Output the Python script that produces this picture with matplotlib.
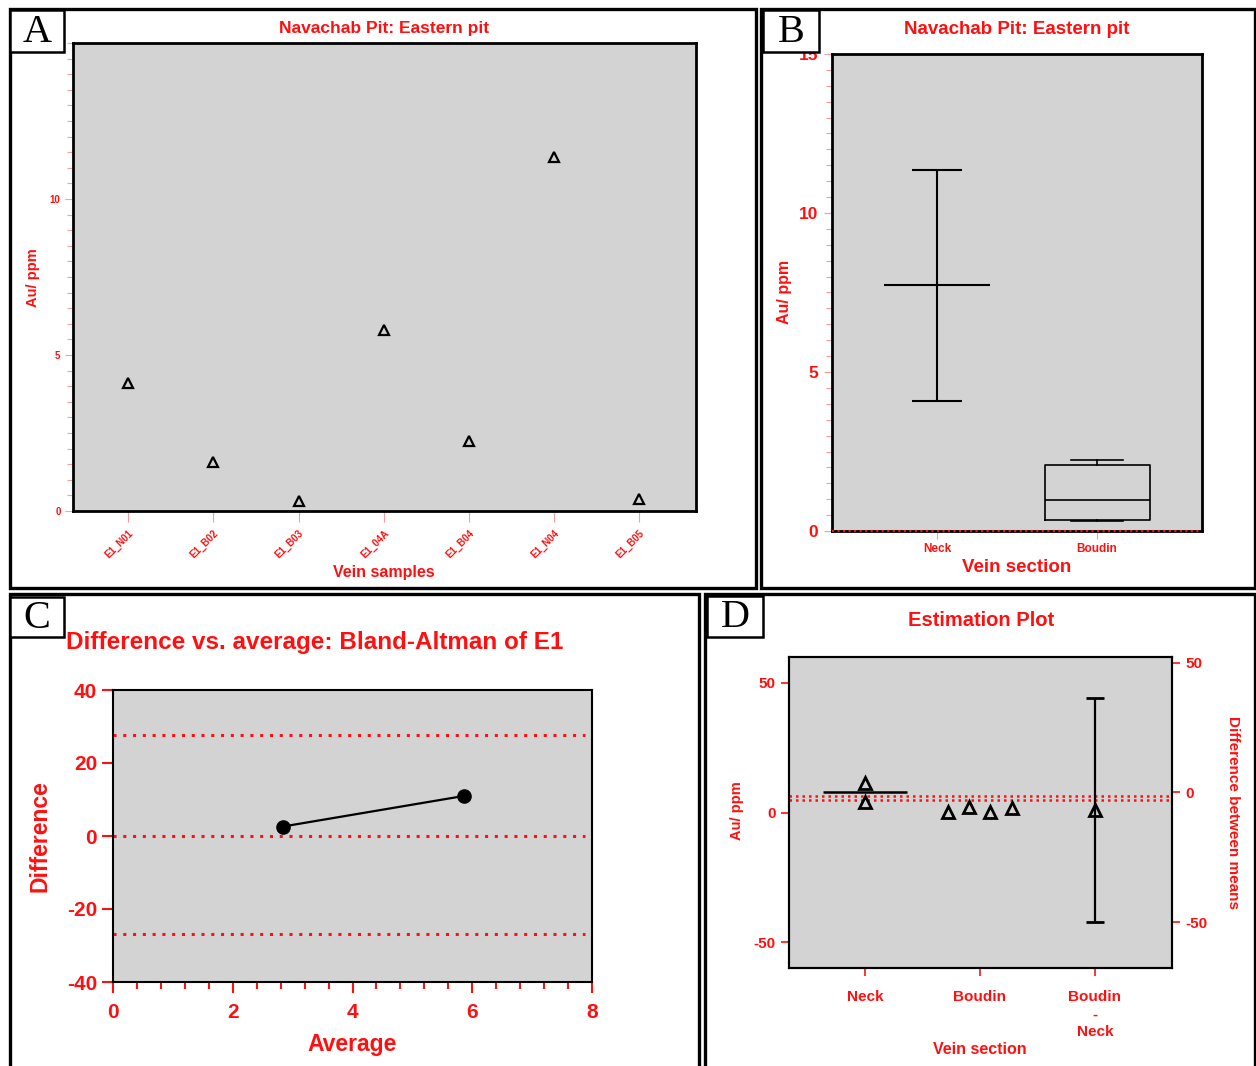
import numpy as np
import matplotlib
matplotlib.use("Agg")
import matplotlib.pyplot as plt
from matplotlib.patches import Rectangle

plt.rcParams['font.family'] = ['Liberation Sans', 'DejaVu Sans']
plt.rcParams['font.weight'] = 'bold'
plt.rcParams['axes.unicode_minus'] = False

# ---- data ----
samples = ['E1_N01', 'E1_B02', 'E1_B03', 'E1_04A', 'E1_B04', 'E1_N04', 'E1_B05']
au_ppm = [4.1, 1.57, 0.32, 5.8, 2.24, 11.35, 0.38]

sections = ['Neck', 'Boudin']
neck_vals = [4.1, 11.35]
boudin_vals = [0.32, 2.24, 0.38, 1.57]

ba_average = [2.84, 5.86]
ba_difference = [2.6, 10.97]
ba_limits = [27.6, 0.0, -26.9]

est_labels = ['Neck', 'Boudin', 'Boudin\n-\nNeck']
est_ref_lines = [6.3, 4.8]
diff_ci = [-49.8, 36.5]

RED = '#ff1010'
PINK = '#f4a0a0'
GREY = '#d3d3d3'

W, H = 1256, 1066
fig = plt.figure(figsize=(W / 100, H / 100), dpi=100)


def px_axes(l, t, r, b):
    return fig.add_axes([l / W, 1 - b / H, (r - l) / W, (b - t) / H])


def ftext(x, y, s, **kw):
    fig.text(x / W, 1 - y / H, s, **kw)


def frame(l, t, r, b, lw=2.4, fill=False):
    fig.patches.append(Rectangle((l / W, 1 - b / H), (r - l) / W, (b - t) / H,
                                 transform=fig.transFigure, fill=fill,
                                 facecolor='white', edgecolor='black',
                                 linewidth=lw, zorder=5))


def style_axes(ax, lw=2.0):
    ax.set_facecolor(GREY)
    for s in ax.spines.values():
        s.set_linewidth(lw)
        s.set_color('black')


# ---------------- panel A ----------------
axA = px_axes(73, 43, 696, 511)
style_axes(axA)
xA = np.arange(len(samples))
axA.plot(xA, au_ppm, linestyle='none', marker='^', markersize=7,
         markerfacecolor='none', markeredgecolor='black', markeredgewidth=1.6)
axA.set_xlim(-0.65, 6.67)
axA.set_ylim(0, 15)
axA.set_yticks([0, 5, 10])
axA.set_yticks(np.arange(0, 15.01, 0.5), minor=True)
axA.set_xticks(xA)
axA.set_xticklabels(samples, rotation=45, ha='right', rotation_mode='anchor')
axA.tick_params(axis='both', which='both', colors=PINK, labelcolor=RED,
                labelsize=7, width=0.8)
axA.tick_params(axis='y', which='major', length=6, pad=3)
axA.tick_params(axis='y', which='minor', length=4)
axA.tick_params(axis='x', length=8, pad=4)
ftext(384, 29, 'Navachab Pit: Eastern pit', color=RED, fontsize=12.5,
      ha='center', va='center', fontweight='bold')
ftext(33, 278, 'Au/ ppm', color=RED, fontsize=10.5, rotation=90,
      ha='center', va='center', fontweight='bold')
ftext(384, 572, 'Vein samples', color=RED, fontsize=11.5,
      ha='center', va='center', fontweight='bold')

# ---------------- panel B ----------------
axB = px_axes(832, 54, 1202, 531)
style_axes(axB)
neck_mean = np.mean(neck_vals)
axB.errorbar([0], [neck_mean],
             yerr=[[neck_mean - min(neck_vals)], [max(neck_vals) - neck_mean]],
             fmt='none', ecolor='black', elinewidth=1.5, capsize=18, capthick=1.5)
axB.hlines(neck_mean, -0.33, 0.33, color='black', linewidth=1.5)
q1, med, q3 = np.percentile(boudin_vals, [25, 50, 75], method='weibull')
stats = [dict(med=med, q1=q1, q3=q3, whislo=min(boudin_vals),
              whishi=max(boudin_vals), fliers=[])]
axB.bxp(stats, positions=[1], widths=0.656, capwidths=0.33, showfliers=False,
        boxprops=dict(color='black', linewidth=1.2),
        whiskerprops=dict(color='black', linewidth=1.2),
        capprops=dict(color='black', linewidth=1.2),
        medianprops=dict(color='black', linewidth=1.2))
axB.axhline(0, color=RED, linestyle=':', linewidth=1.5, zorder=6, clip_on=False)
axB.set_xlim(-0.656, 1.656)
axB.set_ylim(0, 15)
axB.set_yticks([0, 5, 10, 15])
axB.set_yticks(np.arange(0, 15.01, 0.5), minor=True)
axB.set_xticks([0, 1])
axB.set_xticklabels(sections)
axB.tick_params(axis='both', which='both', colors=PINK, labelcolor=RED, width=0.8)
axB.tick_params(axis='y', which='major', labelsize=12.5, length=6, pad=4)
axB.tick_params(axis='y', which='minor', length=4)
axB.tick_params(axis='x', labelsize=8.5, length=6, pad=3)
ftext(1017, 30, 'Navachab Pit: Eastern pit', color=RED, fontsize=13.5,
      ha='center', va='center', fontweight='bold')
ftext(785, 292, 'Au/ ppm', color=RED, fontsize=11.5, rotation=90,
      ha='center', va='center', fontweight='bold')
ftext(1017, 567, 'Vein section', color=RED, fontsize=13.5,
      ha='center', va='center', fontweight='bold')

# ---------------- panel C ----------------
axC = px_axes(113, 690, 592, 982)
style_axes(axC, lw=1.5)
for lim in ba_limits:
    axC.axhline(lim, xmin=0.0, xmax=0.985, color=RED, linestyle=(0, (1, 2.2)),
                linewidth=2.2)
axC.plot(ba_average, ba_difference, color='black', linewidth=1.6,
         marker='o', markersize=9.5)
axC.set_xlim(0, 8)
axC.set_ylim(-40, 40)
axC.set_xticks([0, 2, 4, 6, 8])
axC.set_xticks(np.arange(0, 8.01, 0.4), minor=True)
axC.set_yticks([-40, -20, 0, 20, 40])
axC.tick_params(axis='both', which='both', colors=RED, labelcolor=RED,
                labelsize=15, width=1.5)
axC.tick_params(axis='both', which='major', length=8)
axC.tick_params(axis='x', which='major', pad=7)
axC.tick_params(axis='x', which='minor', length=5)
ftext(66, 642, 'Difference vs. average: Bland-Altman of E1', color=RED,
      fontsize=17.5, ha='left', va='center', fontweight='bold')
ftext(40, 836, 'Difference', color=RED, fontsize=16.5, rotation=90,
      ha='center', va='center', fontweight='bold')
ftext(352, 1045, 'Average', color=RED, fontsize=16.5,
      ha='center', va='center', fontweight='bold')

# ---------------- panel D ----------------
axD = px_axes(789, 657, 1172, 968)
style_axes(axD, lw=1.5)
axD.set_xlim(-0.66, 2.67)
axD.set_ylim(-60, 60)
for yv in est_ref_lines:
    axD.axhline(yv, color=RED, linestyle=(0, (1, 1.6)), linewidth=1.8)
axD.plot(np.zeros(len(neck_vals)), neck_vals, linestyle='none', marker='^',
         markersize=9, markerfacecolor='none', markeredgecolor='black',
         markeredgewidth=2)
axD.hlines(neck_mean, -0.365, 0.365, color='black', linewidth=1.8)
boudin_jitter = [-0.28, -0.095, 0.087, 0.28]
axD.plot(1 + np.array(boudin_jitter), boudin_vals, linestyle='none', marker='^',
         markersize=9, markerfacecolor='none', markeredgecolor='black',
         markeredgewidth=2)
axD.set_xticks([0, 1, 2])
axD.set_xticklabels(est_labels, linespacing=1.3, va='top')
axD.set_yticks([-50, 0, 50])
axD.tick_params(axis='both', colors=RED, labelcolor=RED, labelsize=11,
                width=1.2, length=6)
axD.tick_params(axis='x', pad=10)

axD2 = axD.twinx()
axD2.set_ylim(-60 - neck_mean, 60 - neck_mean)
diff_mean = np.mean(boudin_vals) - neck_mean
axD2.errorbar([2], [diff_mean],
              yerr=[[diff_mean - diff_ci[0]], [diff_ci[1] - diff_mean]],
              fmt='^', markersize=9, markerfacecolor='none',
              markeredgecolor='black', markeredgewidth=2, ecolor='black',
              elinewidth=1.6, capsize=6.5, capthick=1.6)
axD2.set_yticks([-50, 0, 50])
axD2.tick_params(axis='y', colors=RED, labelcolor=RED, labelsize=11,
                 width=1.2, length=6)
for s in axD2.spines.values():
    s.set_linewidth(1.5)
ftext(981, 621, 'Estimation Plot', color=RED, fontsize=14.5,
      ha='center', va='center', fontweight='bold')
ftext(737, 811, 'Au/ ppm', color=RED, fontsize=10.5, rotation=90,
      ha='center', va='center', fontweight='bold')
ftext(1233, 812, 'Difference between means', color=RED, fontsize=11,
      rotation=270, ha='center', va='center', fontweight='bold')
ftext(980, 1050, 'Vein section', color=RED, fontsize=11.5,
      ha='center', va='center', fontweight='bold')

# ---------------- panel frames and letter boxes ----------------
frame(10, 9, 756, 588)
frame(761, 9, 1255, 588)
frame(10, 594, 699, 1070)
frame(705, 594, 1255, 1070)
letters = ['A', 'B', 'C', 'D']
boxes = [(10, 10, 64, 52), (763, 10, 819, 52), (10, 597, 64, 637), (707, 596, 763, 637)]
for let, (l, t, r, b) in zip(letters, boxes):
    frame(l, t, r, b, lw=1.8, fill=True)
    ftext((l + r) / 2, (t + b) / 2 + 1, let, fontsize=29, family='Liberation Serif',
          fontweight='normal', ha='center', va='center', zorder=6)

fig.savefig('out.png', dpi=100)
